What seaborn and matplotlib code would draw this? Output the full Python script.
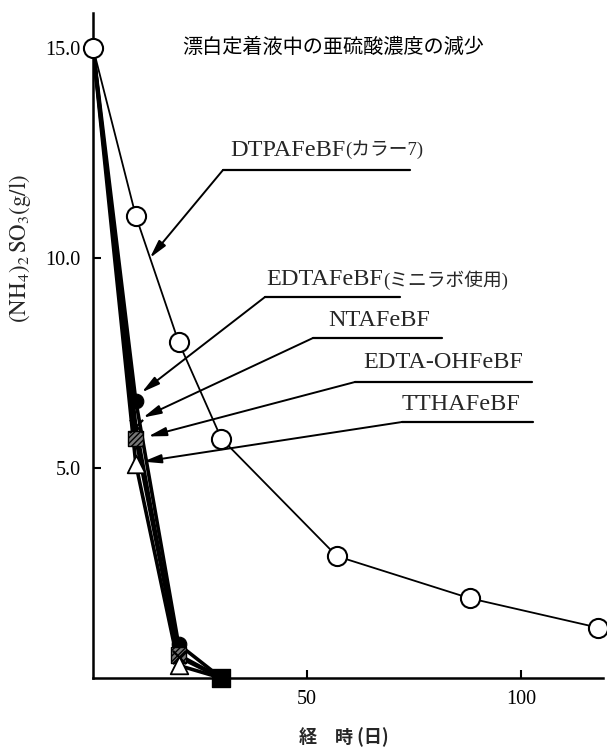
import matplotlib
matplotlib.use("Agg")
import numpy as np
import pandas as pd
import matplotlib.pyplot as plt
from matplotlib.lines import Line2D
import seaborn as sns

# ---- data ----
days_dtpa = [0, 10, 20, 30, 57, 88, 118]
so3_dtpa = [15.0, 11.0, 8.0, 5.7, 2.9, 1.9, 1.2]

days_fast = [0, 10, 20, 30]
so3_edta = [15.0, 6.6, 0.8, 0.0]
so3_nta = [15.0, 6.0, 0.5, 0.0]
so3_edtaoh = [15.0, 5.7, 0.55, 0.0]
so3_ttha = [15.0, 5.1, 0.3, 0.0]

# series names split into latin part + japanese part
series_latin = ["DTPAFeBF", "EDTAFeBF", "NTAFeBF", "EDTA-OHFeBF", "TTHAFeBF"]
series_jp = ["(カラー7)", "(ミニラボ使用)", "", "", ""]
x_ticks = [50, 100]
y_ticks = [5, 10, 15]
y_ticklabels = ["5.0", "10.0", "15.0"]
title = "漂白定着液中の亜硫酸濃度の減少"
xlabel = "経　時 (日)"
ylabel = r"$\mathrm{(NH_4)_2\,SO_3(g/l)}$"

# ---- style ----
sns.set_theme(style="white")
plt.rcParams["font.family"] = ["Liberation Serif", "Noto Sans CJK JP"]
plt.rcParams["mathtext.fontset"] = "stix"

W, H = 607, 750
fig = plt.figure(figsize=(W / 100, H / 100), dpi=100)
ax = fig.add_axes([93 / W, 72 / H, (603 - 93) / W, (737 - 72) / H])

df_dtpa = pd.DataFrame({"day": days_dtpa, "so3": so3_dtpa})
fast = {
    "edta": so3_edta, "nta": so3_nta, "edtaoh": so3_edtaoh, "ttha": so3_ttha,
}

# fast-decaying series (drawn as a dense band of lines)
for key, vals in fast.items():
    d = pd.DataFrame({"day": days_fast, "so3": vals})
    sns.lineplot(data=d, x="day", y="so3", ax=ax, color="black", lw=2.6,
                 estimator=None, sort=False, legend=False)

# markers
d = pd.DataFrame({"day": days_fast, "so3": so3_edta})
sns.scatterplot(data=d.iloc[1:3], x="day", y="so3", ax=ax, marker="o", s=110,
                color="black", edgecolor="black", zorder=5, legend=False)
d = pd.DataFrame({"day": days_fast, "so3": so3_nta})
sns.scatterplot(data=d.iloc[1:3], x="day", y="so3", ax=ax, marker="x", s=90,
                color="black", linewidth=1.6, zorder=6, legend=False)
d = pd.DataFrame({"day": days_fast, "so3": so3_edtaoh})
sns.scatterplot(data=d.iloc[1:3], x="day", y="so3", ax=ax, marker="s", s=120,
                facecolor="#777777", edgecolor="black", hatch="//////",
                linewidth=1.0, zorder=5, legend=False)
sns.scatterplot(data=d.iloc[3:], x="day", y="so3", ax=ax, marker="s", s=150,
                color="black", edgecolor="black", zorder=5, legend=False,
                clip_on=False)
d = pd.DataFrame({"day": days_fast, "so3": so3_ttha})
sns.scatterplot(data=d.iloc[1:3], x="day", y="so3", ax=ax, marker="^", s=160,
                facecolor="white", edgecolor="black", linewidth=1.3,
                zorder=7, legend=False)

# DTPA series
sns.lineplot(data=df_dtpa, x="day", y="so3", ax=ax, color="black", lw=1.3,
             estimator=None, sort=False, legend=False)
sns.scatterplot(data=df_dtpa, x="day", y="so3", ax=ax, marker="o", s=190,
                facecolor="white", edgecolor="black", linewidth=1.5,
                zorder=8, legend=False, clip_on=False)

# ---- axes ----
ax.set_xlim(0, 119.2)
ax.set_ylim(0, 15.83)
ax.set_xticks(x_ticks)
ax.set_xticklabels([str(t) for t in x_ticks])
ax.set_yticks(y_ticks)
ax.set_yticklabels(y_ticklabels)
ax.tick_params(axis="both", direction="in", length=6, width=1.5,
               labelsize=14.5, colors="black", left=True, bottom=True, pad=9)
for s in ["top", "right"]:
    ax.spines[s].set_visible(False)
for s in ["left", "bottom"]:
    ax.spines[s].set_color("black")
    ax.spines[s].set_linewidth(1.8)
ax.set_xlabel("")
ax.set_ylabel("")

# ---- texts ----
fig.text(182 / W, (750 - 47) / H, title, fontsize=14.5, ha="left", va="center",
         family=["Noto Sans CJK JP"], color="black")
fig.text(344 / W, (750 - 737) / H, xlabel, fontsize=13, ha="center",
         va="center", family=["Noto Sans CJK JP"], weight="bold")
fig.text(20 / W, (750 - 248) / H, ylabel, fontsize=16.5, ha="center",
         va="center", rotation=90)

# leader labels: (text left px, text center py, underline x0, x1, py, tip data)
leaders = [
    (230, 150, 223, 410, 170, (13.3, 10.0)),
    (266, 280, 265, 400, 297, (11.4, 6.8)),
    (328, 320, 313, 442, 338, (11.7, 6.2)),
    (363, 363, 355, 532, 382, (12.9, 5.75)),
    (402, 405, 402, 533, 422, (11.7, 5.15)),
]
for lat, jp, (tx, ty, ux0, ux1, uy, tip) in zip(series_latin, series_jp,
                                                leaders):
    t1 = fig.text(tx / W, (H - ty) / H, lat, fontsize=17.5, ha="left",
                  va="center", family=["Liberation Serif"])
    if jp:
        ax.annotate(jp, xy=(1.0, 0.5), xycoords=t1, ha="left", va="center",
                    fontsize=13.5,
                    family=["Liberation Serif", "Noto Sans CJK JP"])
    fig.add_artist(Line2D([ux0 / W, ux1 / W], [(H - uy) / H, (H - uy) / H],
                          transform=fig.transFigure, color="black", lw=1.6))
    ax.annotate("", xy=tip, xycoords="data",
                xytext=(ux0 / W, (H - uy) / H), textcoords="figure fraction",
                arrowprops=dict(arrowstyle="-|>,head_length=0.9,head_width=0.22",
                                color="black", lw=1.4, shrinkA=0, shrinkB=0))

fig.savefig("out.png", dpi=100, facecolor="white")
